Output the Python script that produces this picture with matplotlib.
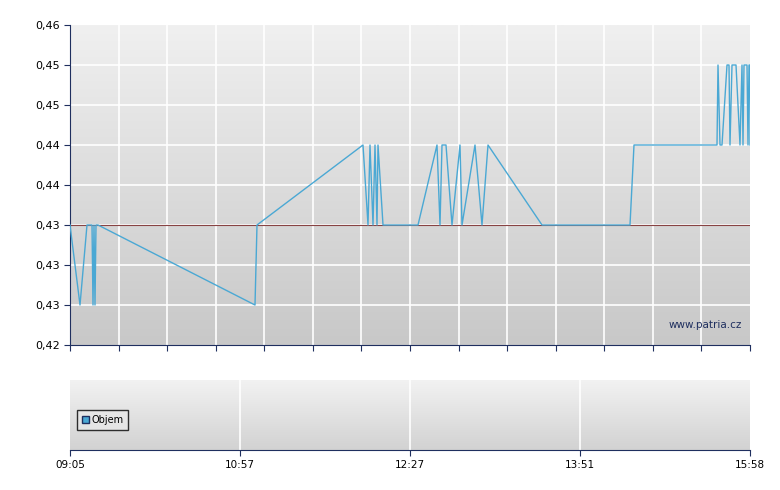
import matplotlib
matplotlib.use("Agg")
import matplotlib.pyplot as plt
import numpy as np

x = [0,10,17,22,23,24,25,26,28,185,187,293,298,300,303,305,307,308,313,348,367,370,372,376,382,390,392,405,412,418,472,560,564,647,648,650,652,657,659,660,662,666,670,672,673,674,677,678,679,680,680]
y = [0.435,0.425,0.435,0.435,0.425,0.435,0.425,0.435,0.435,0.425,0.435,0.445,0.435,0.445,0.435,0.445,0.435,0.445,0.435,0.435,0.445,0.435,0.445,0.445,0.435,0.445,0.435,0.445,0.435,0.445,0.435,0.435,0.445,0.445,0.455,0.445,0.445,0.455,0.455,0.445,0.455,0.455,0.445,0.455,0.445,0.455,0.455,0.445,0.455,0.455,0.445]
ref_price = 0.435
ytick_vals = [0.42,0.425,0.43,0.435,0.44,0.445,0.45,0.455,0.46]
ytick_labels = ["0,42","0,42","0,43","0,43","0,44","0,44","0,45","0,45","0,46"][::1]
ytick_labels = ["0,42","0,43","0,43","0,43","0,44","0,44","0,45","0,45","0,46"]
xtick_pos = [0,170,340,510,680]
xtick_labels = ["09:05","10:57","12:27","13:51","15:58"]

fig = plt.figure(figsize=(7.8,4.9), dpi=100)
fig.patch.set_facecolor("white")
ax = fig.add_axes([70/780, 145/490, 680/780, 320/490])
grad = np.linspace(0,1,256).reshape(-1,1)
from matplotlib.colors import LinearSegmentedColormap
cm = LinearSegmentedColormap.from_list("g", ["#f0f0f0", "#c8c8c8"])
ax.imshow(grad, aspect="auto", cmap=cm, extent=[0,680,0.42,0.46], zorder=0)
ax.set_xlim(0,680); ax.set_ylim(0.42,0.46)
for gx in np.linspace(0,680,15)[1:-1]:
    ax.axvline(gx, color="white", lw=1.2, zorder=1)
for gy in ytick_vals[1:-1]:
    ax.axhline(gy, color="white", lw=1.2, zorder=1)
ax.axhline(ref_price, color="#884444", lw=0.8, zorder=2)
ax.plot(x, y, color="#4aa8d4", lw=1, zorder=3)
ax.set_yticks(ytick_vals); ax.set_yticklabels(ytick_labels, fontsize=8)
ax.set_xticks(np.linspace(0,680,15)); ax.set_xticklabels([])
ax.tick_params(direction="out", length=4, color="#1f2f5f")
for s in ["top","right"]: ax.spines[s].set_visible(False)
for s in ["left","bottom"]: ax.spines[s].set_color("#1f2f5f")
ax.text(672, 0.4225, "www.patria.cz", ha="right", va="center", fontsize=7.5, color="#1f2f5f")

ax2 = fig.add_axes([70/780, 40/490, 680/780, 70/490])
cm2 = LinearSegmentedColormap.from_list("g2", ["#f2f2f2", "#d2d2d2"])
ax2.imshow(grad, aspect="auto", cmap=cm2, extent=[0,680,0,1], zorder=0)
ax2.set_xlim(0,680); ax2.set_ylim(0,1)
for gx in xtick_pos[1:-1]:
    ax2.axvline(gx, color="white", lw=1.2, zorder=1)
ax2.set_xticks(xtick_pos); ax2.set_xticklabels(xtick_labels, fontsize=7.5)
ax2.set_yticks([])
ax2.tick_params(direction="out", length=4, color="#1f2f5f")
for s in ["top","right","left"]: ax2.spines[s].set_visible(False)
ax2.spines["bottom"].set_color("#1f2f5f")
leg = ax2.legend(handles=[plt.Rectangle((0,0),1,1, fc="#4aa8d4", ec="#1f2f5f")], labels=["Objem"],
                 loc="lower left", bbox_to_anchor=(0.003,0.22), fontsize=7, frameon=True,
                 fancybox=False, edgecolor="black", handlelength=0.7, handleheight=0.7,
                 handletextpad=0.3, borderpad=0.5)
leg.get_frame().set_facecolor("#e8e8e8")
fig.savefig("out.png", dpi=100)
